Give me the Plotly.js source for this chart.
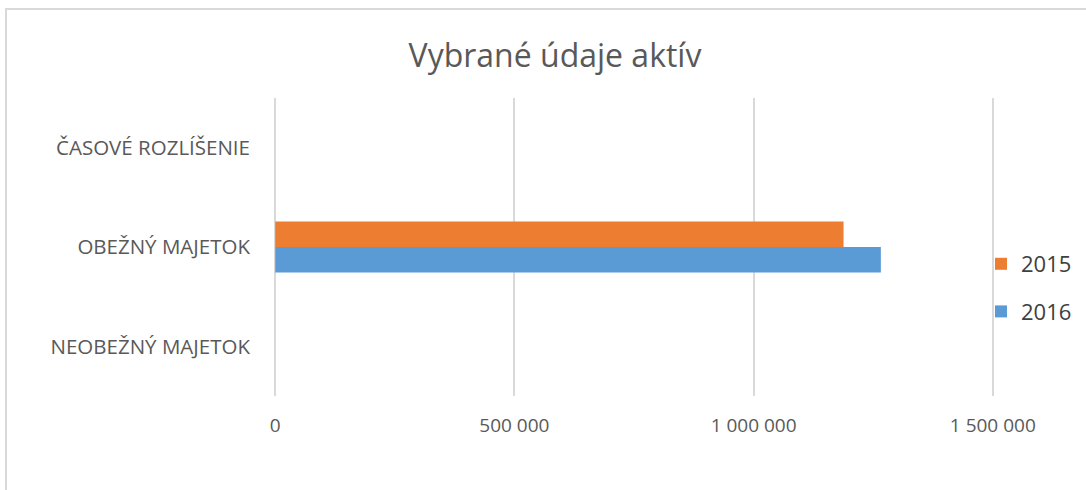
<!DOCTYPE html>
<html>
<head>
<meta charset="utf-8">
<script src="https://cdn.plot.ly/plotly-3.0.1.min.js"></script>
<style>
html,body{margin:0;padding:0;background:#fff;}
#chart{width:1086px;height:490px;}
</style>
</head>
<body>
<div id="chart"></div>
<script>
const categories = ["NEOBEŽNÝ MAJETOK", "OBEŽNÝ MAJETOK", "ČASOVÉ ROZLÍŠENIE"];
const values2016 = [0, 1266000, 0];
const values2015 = [0, 1188000, 0];
const seriesNames = ["2016", "2015"];
const xTickVals = [0, 500000, 1000000, 1500000];

const fontFam = "'Open Sans', sans-serif";
const grey = "#595959";

const traces = [
  {type: "bar", orientation: "h", name: seriesNames[0], y: categories, x: values2016,
   marker: {color: "#5B9BD5"}, legendgroup: "a", legendrank: 2, hoverinfo: "x+name"},
  {type: "bar", orientation: "h", name: seriesNames[1], y: categories, x: values2015,
   marker: {color: "#ED7D31"}, legendgroup: "b", legendrank: 1, hoverinfo: "x+name"}
];

const layout = {
  width: 1086, height: 490,
  margin: {l: 274, r: 92, t: 98, b: 94},
  paper_bgcolor: "#fff", plot_bgcolor: "#fff",
  separators: ", ",
  font: {family: fontFam, color: grey, size: 18},
  title: {text: "Vybrané údaje aktív", font: {family: fontFam, size: 32, color: grey},
          x: 555/1086, xref: "container", y: 0.887, yref: "container", xanchor: "center", yanchor: "middle"},
  barmode: "group", bargap: 0.485, bargroupgap: 0,
  xaxis: {range: [-2500, 1502500], tickvals: xTickVals, tickformat: ",d",
          showgrid: true, gridcolor: "#d9d9d9", gridwidth: 2, zeroline: false,
          showline: false, ticks: "", ticklabelstandoff: 16,
          tickfont: {size: 19, color: grey}, fixedrange: true},
  yaxis: {type: "category", categoryorder: "array", categoryarray: categories,
          range: [-0.5, 2.5], showgrid: false, zeroline: false, showline: false,
          ticks: "", ticklabelstandoff: 23, tickfont: {size: 20.5, color: grey}, fixedrange: true},
  legend: {xref: "container", yref: "container", x: 994/1086, xanchor: "left", y: (490-243)/490, yanchor: "top",
           traceorder: "grouped", tracegroupgap: 16, itemwidth: 30, indentation: -13,
           font: {size: 22, color: "#404040"}, bgcolor: "rgba(0,0,0,0)"},
  shapes: [{type: "rect", xref: "paper", yref: "paper",
            x0: -0.3722, x1: 1.2, y0: -0.5, y1: 1.2987,
            line: {color: "#d9d9d9", width: 2}, fillcolor: "rgba(0,0,0,0)", layer: "below"}]
};

Plotly.newPlot("chart", traces, layout, {displayModeBar: false, staticPlot: true});
</script>
</body>
</html>
